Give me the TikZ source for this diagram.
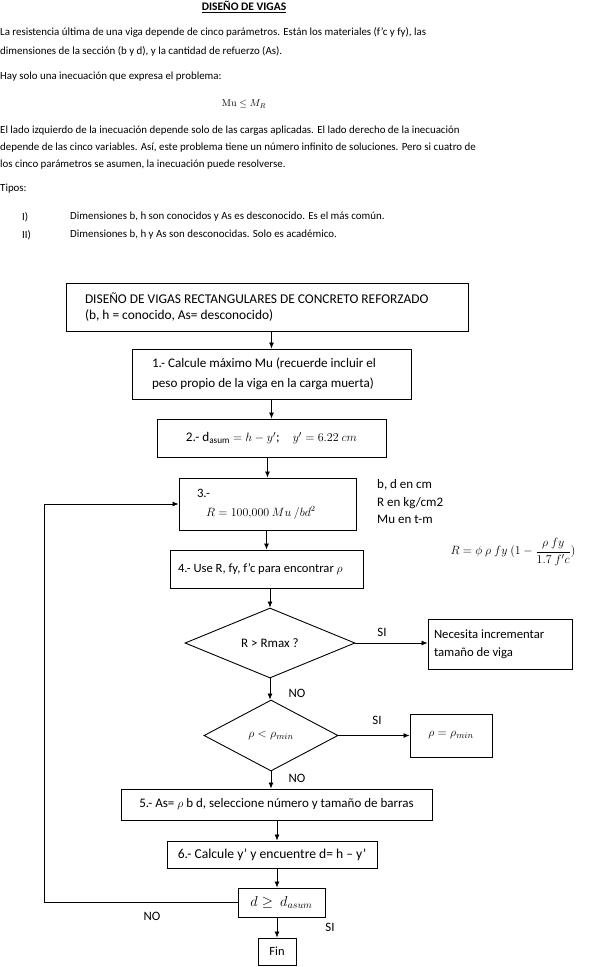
\documentclass[tikz,border=0pt]{standalone}
\usepackage{amsmath}
\usepackage{amssymb}
\usepackage[no-math]{fontspec}
\setmainfont{Carlito}
\usepackage{xcolor}
\usepackage{tikz}
\usetikzlibrary{shapes,arrows,arrows.meta,positioning,fit,calc}

\newcommand{\fs}[2]{\fontsize{#1}{#2}\selectfont}

\begin{document}
\begin{tikzpicture}[
    x=1pt, y=-1pt,
    txt/.style={anchor=west, inner sep=0pt, align=left, font=\fs{10.9}{18.3}},
    box/.style={rectangle, draw, line width=0.9pt, inner ysep=0pt, align=flush left, font=\fs{12.8}{20}},
    decision/.style={diamond, draw, line width=0.9pt, inner sep=0pt, aspect=2.4, font=\fs{13}{15}},
    lbl/.style={inner sep=0pt, font=\fs{12.8}{15}},
    arrow/.style={-{Latex[length=6pt,width=5pt]}, line width=0.8pt},
    line/.style={line width=0.8pt}
]
    \useasboundingbox (0,0) rectangle (592,967);

    % ============ Texto introductorio ============
    \node[inner sep=0pt, font=\fs{11.5}{13}] (titulo) at (244,7) {\underline{\textbf{DISEÑO DE VIGAS}}};
    \node[txt] (par1) at (0,42) {La resistencia última de una viga depende de cinco parámetros. Están los materiales (f’c y fy), las\\
        dimensiones de la sección (b y d), y la cantidad de refuerzo (As).};
    \node[txt] (par2) at (0,77) {Hay solo una inecuación que expresa el problema:};
    \node[inner sep=0pt, font=\fs{10}{12}] (ineq) at (244,104) {$\mathrm{Mu} \leq M_R$};
    \node[txt, font=\fs{10.9}{16.7}] (par3) at (0,147.5) {El lado izquierdo de la inecuación depende solo de las cargas aplicadas. El lado derecho de la inecuación\\
        depende de las cinco variables. Así, este problema tiene un número infinito de soluciones. Pero si cuatro de\\
        los cinco parámetros se asumen, la inecuación puede resolverse.};
    \node[txt] (tipos) at (0,189) {Tipos:};
    \node[txt] (tipo1) at (22,217) {I)};
    \node[txt] (tipo1t) at (70,217) {Dimensiones b, h son conocidos y As es desconocido. Es el más común.};
    \node[txt] (tipo2) at (22,235) {II)};
    \node[txt] (tipo2t) at (70,235) {Dimensiones b, h y As son desconocidas. Solo es académico.};

    % ============ Diagrama de flujo ============
    \node[box, minimum width=402pt, minimum height=48pt, inner xsep=19pt, text width=364pt, font=\fs{13.4}{15.7}] (top) at (267,307)
        {DISEÑO DE VIGAS RECTANGULARES DE CONCRETO REFORZADO\\(b, h = conocido, As= desconocido)};
    \node[box, minimum width=279pt, minimum height=50pt, inner xsep=20pt, text width=239pt, font=\fs{13.1}{20}] (s1) at (271.5,374)
        {1.- Calcule máximo Mu (recuerde incluir el\\peso propio de la viga en la carga muerta)};
    \node[box, minimum width=229pt, minimum height=38pt, align=center, font=\fs{13.2}{16}] (s2) at (271.5,438)
        {2.- d\textsubscript{asum} $= h - y'$;\quad $y' = 6.22\ cm$};
    \node[box, minimum width=177pt, minimum height=52pt, inner xsep=18pt, text width=141pt, font=\fs{11.6}{14}] (s3) at (267.5,504)
        {{\fs{12.8}{14}3.-}\\[5pt]\hspace*{9pt}$R = 100{,}000\ Mu\ /bd^2$};
    \node[box, minimum width=193pt, minimum height=38pt, inner xsep=8pt, text width=177pt, font=\fs{12.6}{14}] (s4) at (266.5,569)
        {4.- Use R, fy, f’c para encontrar $\rho$};
    \node[decision, minimum width=170pt, minimum height=70pt] (d1) at (270,643) {R > Rmax ?};
    \node[box, minimum width=144pt, minimum height=50pt, inner xsep=6pt, text width=132pt, font=\fs{12.7}{18}] (big) at (500,644)
        {Necesita incrementar\\tamaño de viga};
    \node[decision, minimum width=134pt, minimum height=71pt, font=\fs{12.3}{14}] (d2) at (271,735.5) {$\rho < \rho_{min}$};
    \node[box, minimum width=82pt, minimum height=43pt, align=center, font=\fs{12.4}{14}] (rmin) at (451,735.5) {$\rho = \rho_{min}$};
    \node[box, minimum width=311pt, minimum height=31pt, align=center, font=\fs{13}{15}] (s5) at (276.5,804.5)
        {5.- As= $\rho$ b d, seleccione número y tamaño de barras};
    \node[box, minimum width=210pt, minimum height=27pt, align=center, font=\fs{13.6}{15}] (s6) at (272,854.5)
        {6.- Calcule y’ y encuentre d= h – y’};
    \node[box, minimum width=87pt, minimum height=29pt, align=center, font=\fs{14.3}{16}] (chk) at (281.5,902.5) {$d \geq\ d_{asum}$};
    \node[box, minimum width=38pt, minimum height=27pt, align=center, font=\fs{12.5}{14}] (fin) at (277,951.5) {Fin};

    % notas
    \node[txt, font=\fs{13}{17.5}] (unid) at (377,502) {b, d en cm\\R en kg/cm2\\Mu en t-m};
    \node[inner sep=0pt, font=\fs{12.8}{14}] (formR) at (513,552)
        {$R = \phi\ \rho\ fy\ (1 - \dfrac{\rho\ fy}{1.7\ f'c})$};

    % etiquetas
    \node[lbl] (si1) at (382,632) {SI};
    \node[lbl] (no1) at (297,693) {NO};
    \node[lbl] (si2) at (377,720) {SI};
    \node[lbl] (no2) at (297,778) {NO};
    \node[lbl] (no3) at (152,916) {NO};
    \node[lbl] (si3) at (330,927) {SI};

    \coordinate (ret) at (44,902.5);

    % ============ Conexiones ============
    \draw[arrow] (s1.north |- top.south) -- (s1.north);
    \draw[arrow] (s2.north |- s1.south) -- (s2.north);
    \draw[arrow] (s3.north |- s2.south) -- (s3.north);
    \draw[arrow] (s4.north |- s3.south) -- (s4.north);
    \draw[arrow] (d1.north |- s4.south) -- (d1.north);
    \draw[arrow] (d1.south) -- (d1.south |- d2.north);
    \draw[arrow] (d2.south) -- (d2.south |- s5.north);
    \draw[arrow] (fin.north |- s5.south) -- (fin.north |- s6.north);
    \draw[arrow] (fin.north |- s6.south) -- (fin.north |- chk.north);
    \draw[arrow] (fin.north |- chk.south) -- (fin.north);

    % decisiones
    \draw[arrow] (d1.east) -- (d1.east -| big.west);
    \draw[arrow] (d2.east) -- (d2.east -| rmin.west);

    % retorno
    \draw[arrow] (chk.west) -- (ret) |- (s3.west);

\end{tikzpicture}
\end{document}
